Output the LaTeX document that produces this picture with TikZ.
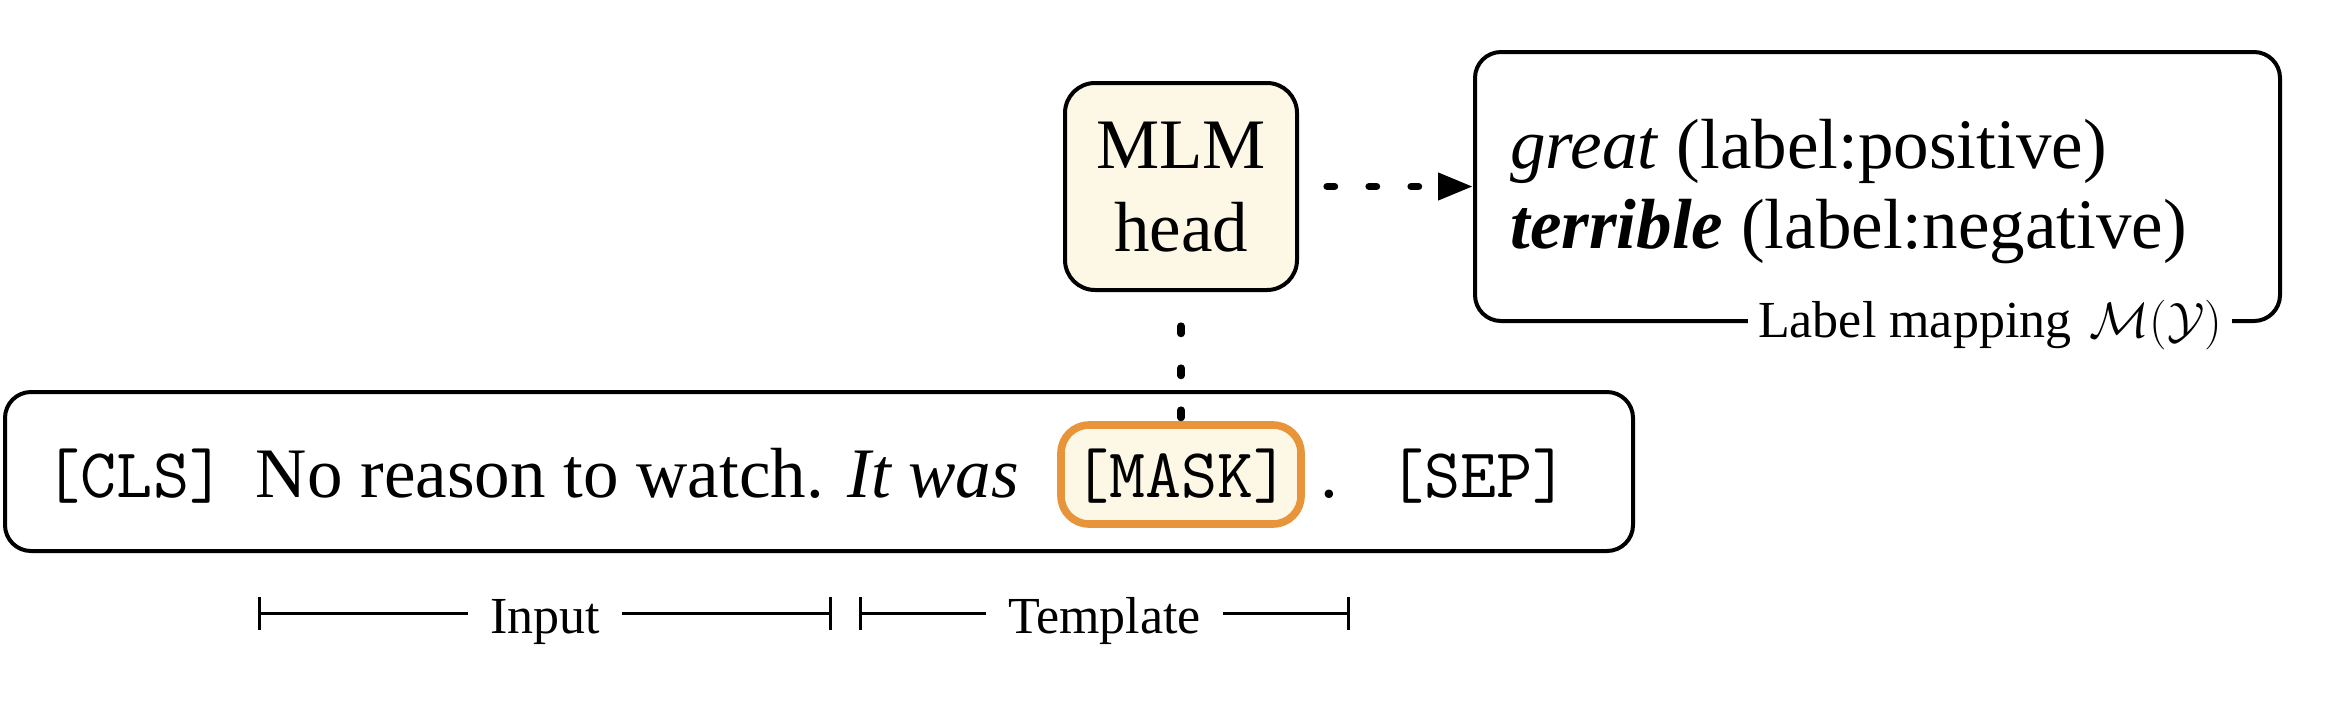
\documentclass[tikz,border=0pt]{standalone}
\usepackage{fontspec}
\setmainfont{Liberation Serif}
\usetikzlibrary{arrows.meta}
\definecolor{cream}{RGB}{253,247,230}
\definecolor{maskorange}{RGB}{232,148,58}
\begin{document}
\begin{tikzpicture}[x=0.5pt,y=-0.5pt,
  box/.style={draw=black, line width=2pt, rounded corners=13pt, inner sep=0pt},
  maintext/.style={font=\fontsize{35.5}{40}\selectfont, inner sep=0pt},
  monotext/.style={font=\ttfamily\fontsize{35}{38}\selectfont, inner sep=0pt},
  smalltext/.style={font=\fontsize{26}{30}\selectfont},
  dotline/.style={line width=3.6pt, line cap=round, dash pattern=on 3.8pt off 17.2pt},
  span/.style={line width=1.5pt, {Bar[width=16.5pt]}-{Bar[width=16.5pt]}},
  spanlbl/.style={smalltext, fill=white, inner xsep=11pt, inner ysep=0pt, text height=20pt, text depth=0pt}
]
\useasboundingbox (0,0) rectangle (2338,708);

% sentence box
\node[box, minimum width=814pt, minimum height=79.5pt] (sent) at (819,471.5) {};
\node[monotext, anchor=base] (cls) at (135,497) {[CLS]};
\node[maintext, anchor=base] (input) at (637.5,497) {No reason to watch. \textit{It was}};
\node[draw=maskorange, fill=cream, line width=3.8pt, rounded corners=14pt,
      minimum width=120pt, minimum height=49.5pt, inner sep=0pt] (mask) at (1181,474.5) {};
\node[monotext, anchor=base] (masktxt) at (1181.5,497) {[MASK]};
\node[maintext, anchor=base] (period) at (1329,497) {.};
\node[monotext, anchor=base] (sep) at (1478.5,497) {[SEP]};

% MLM head
\node[box, fill=cream, rounded corners=15pt, minimum width=116pt, minimum height=103.5pt] (mlm) at (1181,186.5) {};
\node[maintext, anchor=base] (mlmA) at (1181,168) {MLM};
\node[maintext, anchor=base] (mlmB) at (1181,251) {head};

% label mapping box
\node[box, minimum width=402.5pt, minimum height=134.5pt] (map) at (1877.5,186.5) {};
\node[maintext, anchor=base west] (great) at (1510,168) {\textit{great} (label:positive)};
\node[maintext, anchor=base west] (terr) at (1510,248) {\textbf{\textit{terrible}} (label:negative)};
\node[smalltext, fill=white, inner xsep=5pt, inner ysep=0pt, text height=16pt, text depth=0pt] (maplbl)
  at (1990,321) {Label mapping\hspace{0.35em}$\mathcal{M}(\mathcal{Y})$};

% connectors
\draw[dotline, dash phase=7pt, -{Triangle[length=17.5pt,width=13pt]}] (mlm) -- (map);
\draw[dotline, dash phase=4pt] (mlm) -- (mask);

% spans
\coordinate (inL) at (258,613);
\coordinate (inR) at (832,613);
\coordinate (tpL) at (859,613);
\coordinate (tpR) at (1350,613);
\draw[span] (inL) -- node[spanlbl] (inlbl) {Input} (inR);
\draw[span] (tpL) -- node[spanlbl] (tplbl) {Template} (tpR);
\end{tikzpicture}
\end{document}
